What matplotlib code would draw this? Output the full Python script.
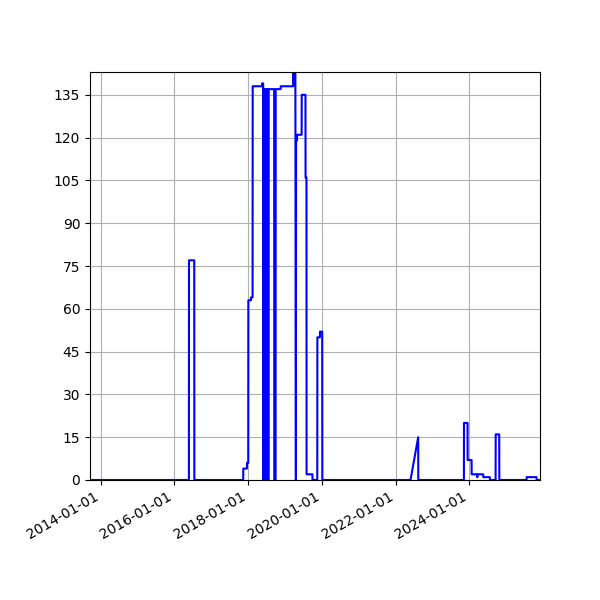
import matplotlib
matplotlib.use("Agg")
import matplotlib.pyplot as plt
import matplotlib.dates as mdates
from matplotlib.ticker import MultipleLocator
import pandas as pd

dates = [
    "2013-09-17", "2016-05-24", "2016-05-25", "2016-07-16", "2016-07-17",
    "2017-11-13", "2017-11-14", "2017-12-20", "2017-12-21", "2018-01-02",
    "2018-01-03", "2018-01-29", "2018-01-30", "2018-02-14", "2018-02-15",
    "2018-05-18", "2018-05-19", "2018-05-30",
    "2018-05-31", "2018-06-02", "2018-06-04", "2018-06-06", "2018-06-08",
    "2018-06-10", "2018-06-12", "2018-06-14", "2018-06-16", "2018-06-18",
    "2018-06-20", "2018-06-22", "2018-06-24", "2018-06-26", "2018-06-28",
    "2018-06-30", "2018-07-02", "2018-07-04", "2018-07-06", "2018-07-08",
    "2018-07-12", "2018-07-16", "2018-07-20", "2018-07-24",
    "2018-09-16", "2018-09-17", "2018-09-30", "2018-10-01", "2018-11-19",
    "2018-11-20", "2019-03-24",
    "2019-03-25", "2019-03-29", "2019-04-02", "2019-04-06", "2019-04-10",
    "2019-04-14", "2019-04-19", "2019-04-21", "2019-04-30", "2019-05-01",
    "2019-06-15", "2019-06-16", "2019-07-23", "2019-07-24", "2019-08-02",
    "2019-08-03", "2019-09-30", "2019-10-01", "2019-11-17", "2019-11-18",
    "2019-12-13", "2019-12-14", "2020-01-05", "2020-01-06",
    "2022-05-29", "2022-08-13", "2022-08-14",
    "2023-11-09", "2023-11-10", "2023-12-15", "2023-12-16", "2024-01-24",
    "2024-01-25", "2024-03-18", "2024-03-19", "2024-03-22", "2024-03-23",
    "2024-05-18", "2024-05-19", "2024-07-23", "2024-07-24", "2024-09-18",
    "2024-09-19", "2024-10-24", "2024-10-25", "2025-07-22", "2025-07-23",
    "2025-10-29", "2025-10-30", "2025-12-02",
]
values = [
    0, 0, 77, 77, 0,
    0, 4, 4, 6, 6,
    63, 63, 64, 64, 138,
    138, 139, 139,
    0, 137, 0, 137, 0,
    137, 0, 137, 0, 137,
    0, 137, 0, 137, 0,
    137, 0, 137, 0, 137,
    0, 137, 0, 137,
    137, 0, 0, 137, 137,
    138, 138,
    155, 139, 155, 140, 155,
    142, 0, 119, 119, 121,
    121, 135, 135, 106, 106,
    2, 2, 0, 0, 50,
    50, 52, 52, 0,
    0, 15, 0,
    0, 20, 20, 7, 7,
    2, 2, 1, 1, 2,
    2, 1, 1, 0, 0,
    16, 16, 0, 0, 1,
    1, 0, 0,
]

x = pd.to_datetime(dates)

fig, ax = plt.subplots(figsize=(6, 6), dpi=100)
ax.plot(x, values, color="blue", linewidth=1.5)
ax.set_xlim(x[0], x[-1])
ax.set_ylim(0, 143)
ax.yaxis.set_major_locator(MultipleLocator(15))
ax.xaxis.set_major_locator(mdates.YearLocator(2))
ax.xaxis.set_major_formatter(mdates.DateFormatter("%Y-%m-%d"))
ax.grid(True)
fig.autofmt_xdate()
fig.subplots_adjust(left=0.15, right=0.9, top=0.88, bottom=0.2)
fig.savefig("out.png", dpi=100)
